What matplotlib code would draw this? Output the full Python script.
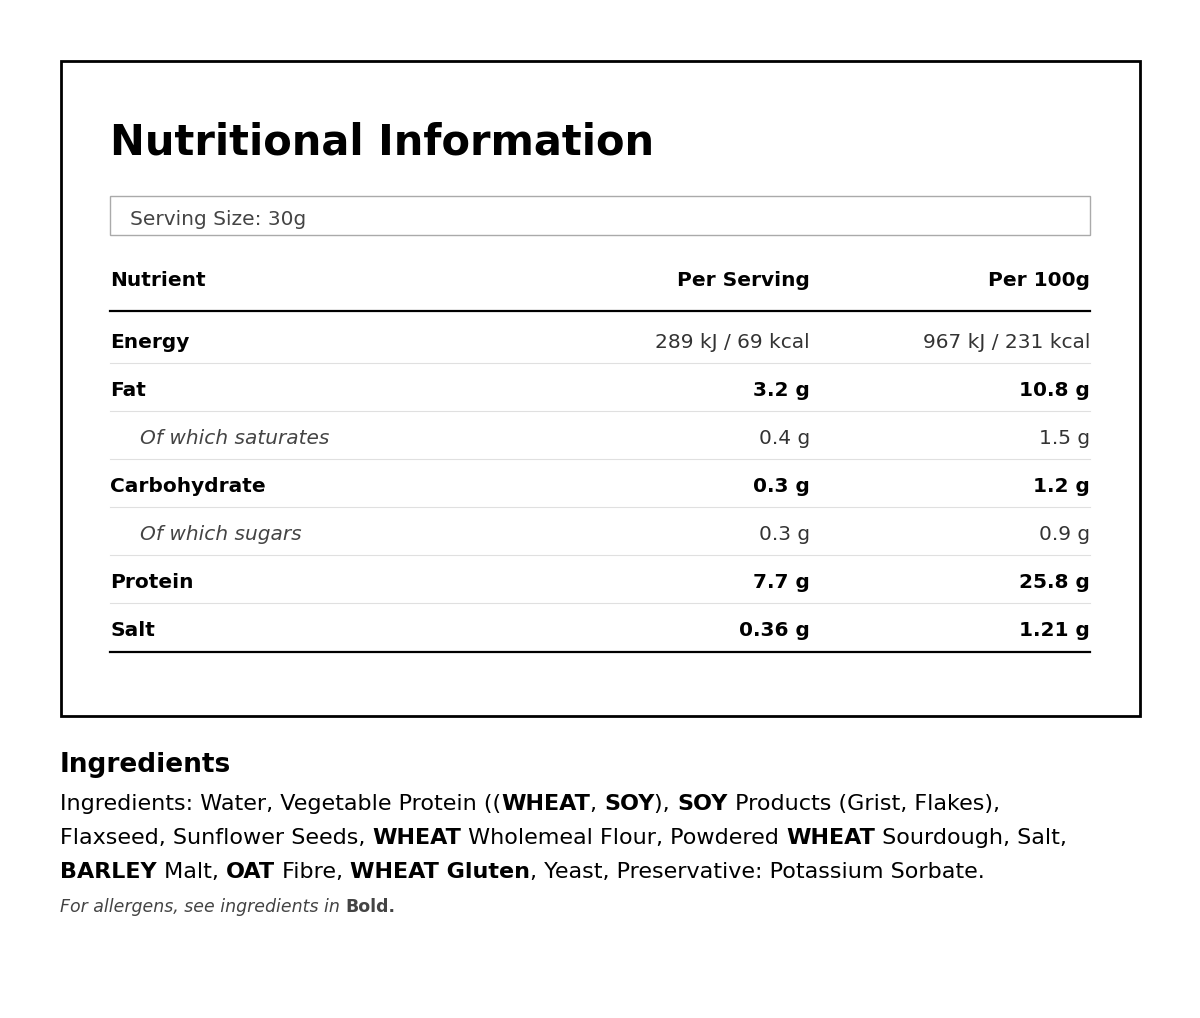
import matplotlib
matplotlib.use("Agg")
import matplotlib.pyplot as plt
from matplotlib.patches import Rectangle

plt.rcParams['font.family'] = ['DejaVu Sans']

title = "Nutritional Information"
serving_size = "Serving Size: 30g"
headers = ["Nutrient", "Per Serving", "Per 100g"]
nutrients = ["Energy", "Fat", "Of which saturates", "Carbohydrate", "Of which sugars", "Protein", "Salt"]
per_serving = ["289 kJ / 69 kcal", "3.2 g", "0.4 g", "0.3 g", "0.3 g", "7.7 g", "0.36 g"]
per_100g = ["967 kJ / 231 kcal", "10.8 g", "1.5 g", "1.2 g", "0.9 g", "25.8 g", "1.21 g"]
row_kind = ["plain", "bold", "sub", "bold", "sub", "bold", "bold"]
ingredients_runs = [
    [("Ingredients: Water, Vegetable Protein ((", False), ("WHEAT", True), (", ", False), ("SOY", True),
     ("), ", False), ("SOY", True), (" Products (Grist, Flakes),", False)],
    [("Flaxseed, Sunflower Seeds, ", False), ("WHEAT", True), (" Wholemeal Flour, Powdered ", False),
     ("WHEAT", True), (" Sourdough, Salt,", False)],
    [("BARLEY", True), (" Malt, ", False), ("OAT", True), (" Fibre, ", False), ("WHEAT Gluten", True),
     (", Yeast, Preservative: Potassium Sorbate.", False)],
]

W, H = 1200, 1018
fig = plt.figure(figsize=(12, 10.18), dpi=100)
ax = fig.add_axes([0, 0, 1, 1])
ax.set_xlim(0, W); ax.set_ylim(H, 0); ax.axis('off')

ax.add_patch(Rectangle((61, 61), 1079, 655, fill=False, lw=2, ec='black'))
ax.text(110, 142, title, fontsize=30, fontweight='bold', va='center', ha='left')
ax.add_patch(Rectangle((110, 196), 980, 39, fill=False, lw=1, ec='#aaaaaa'))
ax.text(130, 219, serving_size, fontsize=14.5, va='center', color='#444444')

x1, x2, x3 = 110, 810, 1090
ax.text(x1, 281, headers[0], fontsize=14.5, fontweight='bold', va='center')
ax.text(x2, 281, headers[1], fontsize=14.5, fontweight='bold', va='center', ha='right')
ax.text(x3, 281, headers[2], fontsize=14.5, fontweight='bold', va='center', ha='right')
ax.plot([110, 1090], [311, 311], color='black', lw=1.6)

y0, dy = 343, 48
for i, (n, s, p, k) in enumerate(zip(nutrients, per_serving, per_100g, row_kind)):
    y = y0 + i * dy
    if k == "sub":
        ax.text(140, y, n, fontsize=14.5, style='italic', color='#444444', va='center')
    else:
        ax.text(x1, y, n, fontsize=14.5, fontweight='bold', va='center')
    w = 'bold' if k == "bold" else 'normal'
    c = 'black' if k == "bold" else '#333333'
    ax.text(x2, y, s, fontsize=14.5, fontweight=w, color=c, va='center', ha='right')
    ax.text(x3, y, p, fontsize=14.5, fontweight=w, color=c, va='center', ha='right')
    if i < len(nutrients) - 1:
        ax.plot([110, 1090], [y + 20, y + 20], color='#e0e0e0', lw=0.8)
ax.plot([110, 1090], [652, 652], color='black', lw=1.6)

ax.text(60, 765, "Ingredients", fontsize=19, fontweight='bold', va='center')

fig.canvas.draw()
r = fig.canvas.get_renderer()
inv = ax.transData.inverted()
for li, runs in enumerate(ingredients_runs):
    x = 60
    y = 804 + li * 34
    for txt, b in runs:
        t = ax.text(x, y, txt, fontsize=16, fontweight='bold' if b else 'normal', va='center', color='black')
        bb = t.get_window_extent(renderer=r)
        x0d = inv.transform((bb.x0, bb.y0))[0]
        x1d = inv.transform((bb.x1, bb.y0))[0]
        x += x1d - x0d
t = ax.text(60, 907, "For allergens, see ingredients in ", fontsize=12.5, style='italic', color='#444444', va='center')
bb = t.get_window_extent(renderer=r)
xe = inv.transform((bb.x1, bb.y0))[0]
ax.text(xe, 907, "Bold.", fontsize=12.5, fontweight='bold', color='#444444', va='center')

fig.savefig("out.png", dpi=100)
